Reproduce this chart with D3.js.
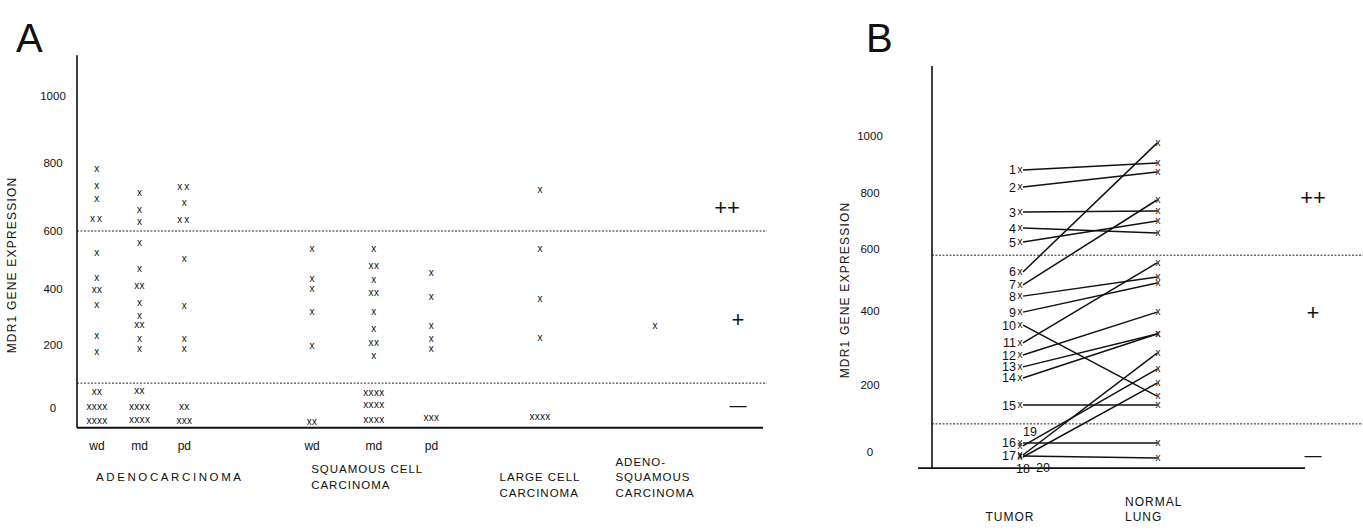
<!DOCTYPE html>
<html>
<head>
<meta charset="utf-8">
<script src="https://cdn.jsdelivr.net/npm/d3@7"></script>
<style>
  body { margin: 0; background: #fff; }
  svg { display: block; font-family: "Liberation Sans", Arial, sans-serif; }
  text { fill: #111; }
  .mark { font-size: 10px; }
  .tick text { font-size: 11.5px; }
  .dash { stroke: #222; stroke-width: 1; stroke-dasharray: 2,1.5; }
  .axisline { stroke: #111; stroke-width: 1.6; }
</style>
</head>
<body>
<svg id="chart" width="1363" height="530"></svg>
<script>
// ---- panel A: MDR1 expression per tumour subtype (one value per sample)
var columnsA = ['adeno wd', 'adeno md', 'adeno pd', 'squamous wd', 'squamous md', 'squamous pd', 'large cell', 'adenosquamous'];
var subLabelsA = ['wd', 'md', 'pd', 'wd', 'md', 'pd', '', ''];
var adenoWd = [782, 732, 694, 635, 635, 524, 438, 396, 396, 343, 232, 178, 51, 51, 3, 3, 3, 3, -41, -41, -41, -41];
var adenoMd = [712, 662, 626, 559, 469, 410, 410, 350, 304, 271, 271, 221, 187, 54, 54, 3, 3, 3, 3, -38, -38, -38, -38];
var adenoPd = [729, 729, 682, 632, 632, 503, 339, 221, 187, 3, 3, -41, -41, -41];
var squamousWd = [538, 434, 400, 318, 197, -44, -44];
var squamousMd = [538, 479, 479, 432, 386, 386, 318, 257, 206, 206, 165, 48, 48, 48, 48, 10, 10, 10, 10, -38, -38, -38, -38];
var squamousPd = [455, 371, 268, 221, 187, -32, -32, -32];
var largeCell = [721, 538, 364, 225, -29, -29, -29, -29];
var adenoSquamous = [268];
var valuesA = [adenoWd, adenoMd, adenoPd, squamousWd, squamousMd, squamousPd, largeCell, adenoSquamous];
var groupsA = [
  {col: 0, lines: ['ADENOCARCINOMA'], row: 0, align: 'left', spacing: 2.6},
  {col: 3, lines: ['SQUAMOUS CELL', 'CARCINOMA'], row: -0.5, align: 'left', spacing: 1},
  {col: 6, lines: ['LARGE CELL', 'CARCINOMA'], row: 0, align: 'center', spacing: 1},
  {col: 7, lines: ['ADENO-', 'SQUAMOUS', 'CARCINOMA'], row: -1, align: 'center', spacing: 1}
];

// ---- panel B: paired tumour / normal lung samples 1..20
var sampleIds = d3.range(1, 21);
var tumorB = [881, 821, 732, 675, 625, 526, 484, 448, 397, 362, 314, 281, 249, 219, 140, 27, -9, -15, 18, -12];
var normalB = [905, 874, 736, 657, 700, 975, 775, 510, 490, 167, 555, 397, 338, 338, 140, 27, 286, 205, 243, -18];

var tickValues = [0, 200, 400, 600, 800, 1000];
var cutoffsA = [600, 79];
var cutoffsB = [580, 84];
var levelsA = [{t: '++', v: 670}, {t: '+', v: 292}, {t: '\u2014', v: 10}];
var levelsB = [{t: '++', v: 786}, {t: '+', v: 397}, {t: '\u2014', v: -9}];

var svg = d3.select('#chart');

// --------------------------------------------------------------- panel A
var yA = d3.scaleLinear().domain(tickValues).range([408, 345, 289, 231, 163, 96]);
var xA = d3.scaleLinear().domain([0, 1]).range([97, 139.6]);
var slotsA = [0, 1, 2.05, 5.05, 6.5, 7.85, 10.4, 13.1];
var leftA = 77, rightA = 765;

svg.append('text').attr('x', 16).attr('y', 52).style('font-size', '40px').text('A');

var gA = svg.append('g');

gA.selectAll('line.dash').data(cutoffsA).enter().append('line')
  .attr('class', 'dash')
  .attr('x1', leftA).attr('x2', rightA + 2)
  .attr('y1', function(d) { return yA(d); })
  .attr('y2', function(d) { return yA(d); });

gA.append('line').attr('class', 'axisline')
  .attr('x1', leftA).attr('x2', leftA)
  .attr('y1', yA(1122)).attr('y2', yA(-63));
gA.append('line').attr('class', 'axisline').style('stroke-width', 2)
  .attr('x1', leftA).attr('x2', rightA - 2)
  .attr('y1', yA(-63)).attr('y2', yA(-63));

var axA = gA.append('g').attr('transform', 'translate(' + leftA + ',0)')
  .call(d3.axisLeft(yA).tickValues(tickValues).tickSize(0).tickFormat(d3.format('d')));
axA.select('.domain').remove();
axA.selectAll('text').attr('x', -24).attr('text-anchor', 'middle').attr('fill', '#111');

svg.append('text')
  .attr('transform', 'translate(16,' + 265 + ') rotate(-90)')
  .attr('text-anchor', 'middle')
  .style('font-size', '12px').style('letter-spacing', '1.2px')
  .text('MDR1 GENE EXPRESSION');

// the x marks, samples with the same value are printed side by side
var marksA = [];
valuesA.forEach(function(vals, i) {
  d3.rollups(vals, function(v) { return v.length; }, function(d) { return d; })
    .forEach(function(c) { marksA.push({col: i, value: c[0], n: c[1]}); });
});
gA.selectAll('text.mark').data(marksA).enter().append('text')
  .attr('class', 'mark')
  .attr('x', function(d) { return xA(slotsA[d.col]); })
  .attr('y', function(d) { return yA(d.value); })
  .attr('dy', '0.3em')
  .attr('text-anchor', 'middle')
  .style('letter-spacing', function(d) { return d.value > 600 && d.n > 1 ? '2px' : '0.3px'; })
  .text(function(d) { return d3.range(d.n).map(function() { return 'x'; }).join(''); });

gA.selectAll('text.sub').data(subLabelsA).enter().append('text')
  .attr('class', 'sub')
  .attr('x', function(d, i) { return xA(slotsA[i]); })
  .attr('y', 450)
  .attr('text-anchor', 'middle')
  .style('font-size', '12px')
  .text(function(d) { return d; });

groupsA.forEach(function(g) {
  var t = gA.append('text').style('font-size', '11.5px').style('letter-spacing', g.spacing + 'px');
  g.lines.forEach(function(l, k) {
    t.append('tspan').attr('x', 0).attr('y', 481 + (g.row + k) * 15.5).text(l);
  });
  var w = t.node().getBBox().width;
  var x0 = xA(slotsA[g.col]) - (g.align === 'center' ? w / 2 : 1);
  t.selectAll('tspan').attr('x', x0);
});

gA.selectAll('text.level').data(levelsA).enter().append('text')
  .attr('class', 'level')
  .attr('x', function(d) { return d.t === '++' ? 727 : 738; })
  .attr('y', function(d) { return yA(d.v); })
  .attr('dy', '0.35em')
  .attr('text-anchor', 'middle')
  .style('font-size', function(d) { return d.t === '\u2014' ? '17px' : '22px'; })
  .text(function(d) { return d.t; });

// --------------------------------------------------------------- panel B
var yB = d3.scaleLinear().domain(tickValues).range([452, 385, 311, 249, 193, 136]);
var xB = d3.scalePoint().domain(['TUMOR', 'NORMAL LUNG']).range([1020, 1157]);
var leftB = 932;

svg.append('text').attr('x', 866).attr('y', 52).style('font-size', '40px').text('B');

var gB = svg.append('g');

gB.selectAll('line.dash').data(cutoffsB).enter().append('line')
  .attr('class', 'dash')
  .attr('x1', leftB).attr('x2', 1363)
  .attr('y1', function(d) { return yB(d); })
  .attr('y2', function(d) { return yB(d); });

gB.append('line').attr('class', 'axisline')
  .attr('x1', leftB).attr('x2', leftB)
  .attr('y1', 66).attr('y2', yB(-48));
gB.append('line').attr('class', 'axisline')
  .attr('x1', 918).attr('x2', 1305)
  .attr('y1', yB(-48)).attr('y2', yB(-48));

var axB = gB.append('g').attr('transform', 'translate(' + leftB + ',0)')
  .call(d3.axisLeft(yB).tickValues(tickValues).tickSize(0).tickFormat(d3.format('d')));
axB.select('.domain').remove();
axB.selectAll('text').attr('x', -62).attr('text-anchor', 'middle').attr('fill', '#111');

svg.append('text')
  .attr('transform', 'translate(849,' + 290 + ') rotate(-90)')
  .attr('text-anchor', 'middle')
  .style('font-size', '12px').style('letter-spacing', '1.2px')
  .text('MDR1 GENE EXPRESSION');

var pairs = sampleIds.map(function(id, i) { return {id: id, t: tumorB[i], n: normalB[i]}; });

gB.selectAll('line.pair').data(pairs).enter().append('line')
  .attr('class', 'pair')
  .attr('stroke', '#111').attr('stroke-width', 1.5)
  .attr('x1', xB('TUMOR') + 3).attr('x2', xB('NORMAL LUNG'))
  .attr('y1', function(d) { return yB(d.t); })
  .attr('y2', function(d) { return yB(d.n); });

gB.selectAll('text.tmark').data(pairs).enter().append('text')
  .attr('class', 'mark')
  .attr('x', xB('TUMOR'))
  .attr('y', function(d) { return yB(d.t); })
  .attr('dy', '0.3em').attr('text-anchor', 'middle')
  .text('x');
gB.selectAll('text.nmark').data(pairs).enter().append('text')
  .attr('class', 'mark')
  .attr('x', xB('NORMAL LUNG') + 1)
  .attr('y', function(d) { return yB(d.n); })
  .attr('dy', '0.3em').attr('text-anchor', 'middle')
  .text('x');

// sample numbers left of the tumour marks; 18-20 sit above / below the crowd
gB.selectAll('text.num').data(pairs).enter().append('text')
  .attr('class', 'num')
  .style('font-size', '12.5px')
  .attr('x', function(d) {
    if (d.id === 19) return xB('TUMOR') + 3;
    if (d.id === 18) return xB('TUMOR') - 4;
    if (d.id === 20) return xB('TUMOR') + 16;
    return xB('TUMOR') - 4;
  })
  .attr('y', function(d) {
    if (d.id === 19) return yB(d.t) - 10;
    if (d.id === 18 || d.id === 20) return yB(d.t) + 16;
    return yB(d.t) + 4.5;
  })
  .attr('text-anchor', function(d) { return d.id >= 18 ? 'start' : 'end'; })
  .text(function(d) { return d.id; });

gB.append('text').attr('x', xB('TUMOR') - 10).attr('y', 521)
  .attr('text-anchor', 'middle').style('font-size', '12px').style('letter-spacing', '1px')
  .text('TUMOR');
var nl = gB.append('text').style('font-size', '12px').style('letter-spacing', '1px');
nl.append('tspan').attr('x', xB('NORMAL LUNG') - 32).attr('y', 506).text('NORMAL');
nl.append('tspan').attr('x', xB('NORMAL LUNG') - 32).attr('y', 521).text('LUNG');

gB.selectAll('text.level').data(levelsB).enter().append('text')
  .attr('class', 'level')
  .attr('x', 1313)
  .attr('y', function(d) { return yB(d.v); })
  .attr('dy', '0.35em')
  .attr('text-anchor', 'middle')
  .style('font-size', function(d) { return d.t === '\u2014' ? '17px' : '22px'; })
  .text(function(d) { return d.t; });
</script>
</body>
</html>
